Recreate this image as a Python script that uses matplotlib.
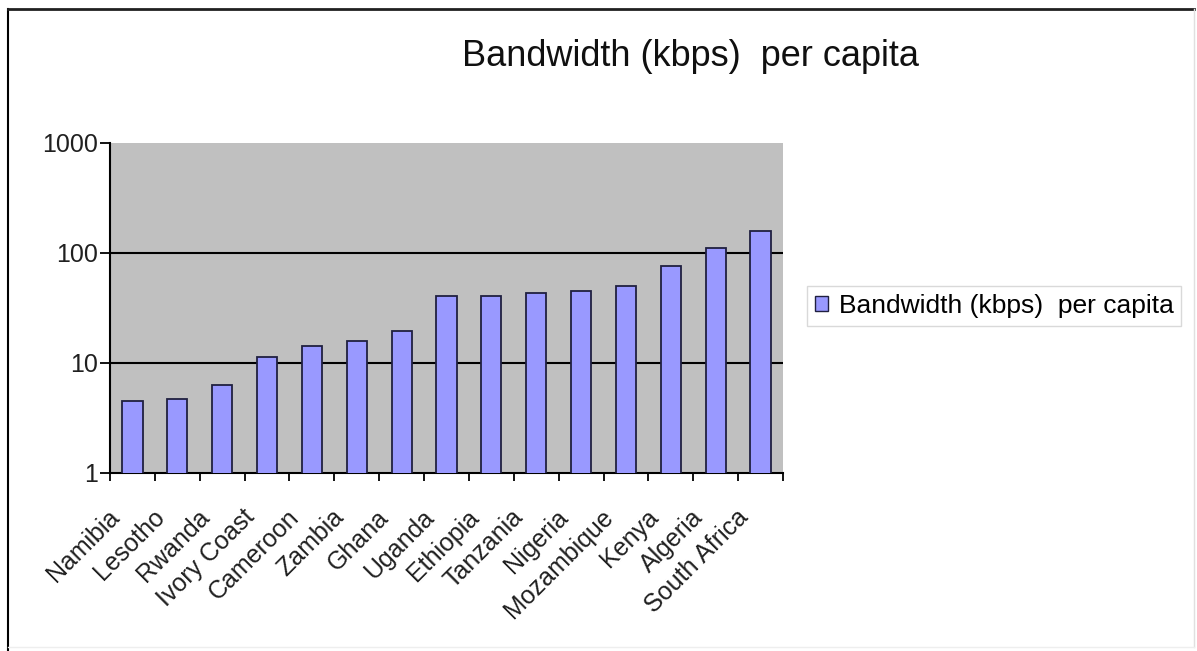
import matplotlib
matplotlib.use("Agg")
import matplotlib.pyplot as plt
from matplotlib.lines import Line2D
from matplotlib.patches import Patch

countries = ["Namibia", "Lesotho", "Rwanda", "Ivory Coast", "Cameroon", "Zambia", "Ghana",
             "Uganda", "Ethiopia", "Tanzania", "Nigeria", "Mozambique", "Kenya", "Algeria",
             "South Africa"]
bandwidth = [4.5, 4.7, 6.3, 11.3, 14.2, 15.7, 19.4, 40.3, 40.9, 43.3, 44.8, 49.7, 75.5, 111, 160]
yticks = [1, 10, 100, 1000]
ytick_labels = ["1", "10", "100", "1000"]
series_name = "Bandwidth (kbps)  per capita"
title = "Bandwidth (kbps)  per capita"

plt.rcParams['font.family'] = ['Liberation Sans', 'DejaVu Sans']

W, H = 1197, 651
fig = plt.figure(figsize=(W / 100, H / 100), dpi=100)
fig.patch.set_facecolor("white")

ax = fig.add_axes([110 / W, 1 - 473 / H, (783 - 110) / W, (473 - 143) / H])
ax.set_facecolor("#C0C0C0")
x = list(range(len(countries)))
ax.bar(x, bandwidth, width=0.45, log=True, color="#9999FF", edgecolor="#202040",
       linewidth=1.3, zorder=3, label=series_name)
ax.set_yscale("log")
ax.set_ylim(1, 1000)
ax.set_xlim(-0.5, len(countries) - 0.5)

for v in [10, 100]:
    ax.axhline(v, color="black", linewidth=1.5, zorder=2)

ax.set_yticks(yticks)
ax.set_yticklabels(ytick_labels)
ax.minorticks_off()
ax.tick_params(axis="y", direction="out", length=7, width=1.3, labelsize=18, pad=2,
               labelcolor="#202020")

ax.set_xticks([i + 0.5 for i in range(-1, len(countries))], minor=False)
ax.set_xticklabels([])
ax.tick_params(axis="x", direction="out", length=6, width=1.3)
for i, c in enumerate(countries):
    ax.annotate(c, xy=(i, 1), xycoords=("data", "data"), xytext=(-18, -23),
                textcoords="offset points", rotation=45, ha="right", va="top",
                rotation_mode="anchor", fontsize=18, color="#202020")

for s in ["top", "right"]:
    ax.spines[s].set_visible(False)
for s in ["left", "bottom"]:
    ax.spines[s].set_color("black")
    ax.spines[s].set_linewidth(1.5)

fig.text(690 / W, 1 - 57 / H, title, ha="center", va="center", fontsize=26, color="#101010")

handle = Patch(facecolor="#9999FF", edgecolor="#202040", linewidth=1.0)
leg = fig.legend([handle], [series_name], loc="upper left",
                 bbox_to_anchor=(807 / W, 1 - 286 / H), frameon=True, fontsize=19,
                 handlelength=0.5, handleheight=0.5, handletextpad=0.4,
                 borderpad=0.3, fancybox=False, borderaxespad=0)
leg.get_frame().set_edgecolor("#D0D0D0")
leg.get_frame().set_linewidth(1.0)

# outer chart border
fig.add_artist(Line2D([8 / W, 8 / W], [0, 1 - 9 / H], transform=fig.transFigure,
                      color="black", linewidth=1.5))
fig.add_artist(Line2D([8 / W, 1 - 3 / W], [1 - 9 / H, 1 - 9 / H], transform=fig.transFigure,
                      color="#202020", linewidth=2))
fig.add_artist(Line2D([1 - 3 / W, 1 - 3 / W], [4 / H, 1 - 9 / H], transform=fig.transFigure,
                      color="#E0E0E0", linewidth=1))
fig.add_artist(Line2D([8 / W, 1 - 3 / W], [4 / H, 4 / H], transform=fig.transFigure,
                      color="#EEEEEE", linewidth=1))

fig.savefig("out.png", dpi=100)
